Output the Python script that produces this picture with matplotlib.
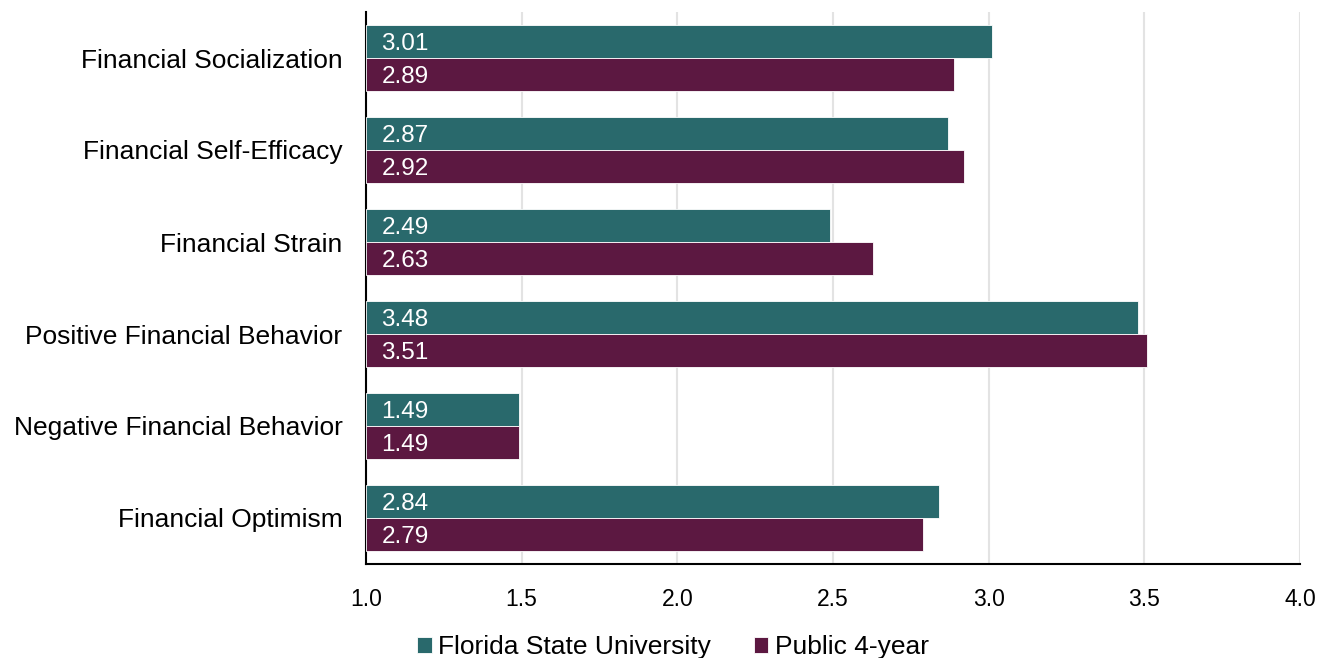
import numpy as np
import matplotlib.pyplot as plt

plt.rcParams['font.family'] = ['Liberation Sans', 'DejaVu Sans']

categories = ["Financial Socialization", "Financial Self-Efficacy", "Financial Strain",
              "Positive Financial Behavior", "Negative Financial Behavior", "Financial Optimism"]
fsu = [3.01, 2.87, 2.49, 3.48, 1.49, 2.84]
public4 = [2.89, 2.92, 2.63, 3.51, 1.49, 2.79]
series_names = ["Florida State University", "Public 4-year"]
xticks = [1.0, 1.5, 2.0, 2.5, 3.0, 3.5, 4.0]

teal = '#29696C'
maroon = '#5C1841'
base = 1.0

fig = plt.figure(figsize=(13.28, 6.58), dpi=100)
ax = fig.add_axes([366 / 1328, 1 - 564 / 658, (1300 - 366) / 1328, (564 - 12) / 658])

y = np.arange(len(categories))
h = 0.36
b1 = ax.barh(y - h / 2, np.array(fsu) - base, h, left=base, color=teal,
             edgecolor='white', linewidth=0.6, label=series_names[0], zorder=3)
b2 = ax.barh(y + h / 2, np.array(public4) - base, h, left=base, color=maroon,
             edgecolor='white', linewidth=0.6, label=series_names[1], zorder=3)

# value labels sit at the left end of each bar
for bars, vals in [(b1, fsu), (b2, public4)]:
    for rect, v in zip(bars, vals):
        ax.annotate(f"{v:.2f}", (base, rect.get_y() + rect.get_height() / 2),
                    xytext=(11, -2), textcoords='offset points',
                    ha='left', va='center', color='white', fontsize=17.5, zorder=4)

ax.set_xlim(1.0, 4.0)
ax.set_ylim(len(categories) - 0.5, -0.5)
ax.set_xticks(xticks)
ax.set_xticklabels([f"{t:.1f}" for t in xticks], fontsize=16.5)
ax.set_yticks(y)
ax.set_yticklabels(categories, fontsize=19)
ax.tick_params(axis='both', length=0)
ax.tick_params(axis='x', pad=17)
ax.tick_params(axis='y', pad=17)
ax.grid(axis='x', color='#e3e3e3', linewidth=1.5, zorder=0)
ax.set_axisbelow(True)
for s in ['top', 'right']:
    ax.spines[s].set_visible(False)
for s in ['left', 'bottom']:
    ax.spines[s].set_linewidth(1.5)
    ax.spines[s].set_color('black')

fig.legend(handles=[b1, b2], labels=series_names, loc='center', ncol=2,
           bbox_to_anchor=(673 / 1328, 1 - 647 / 658), frameon=False,
           fontsize=19, handlelength=0.55, handleheight=0.55,
           handletextpad=0.25, columnspacing=1.6, borderpad=0)

fig.savefig('out.png', dpi=100)
